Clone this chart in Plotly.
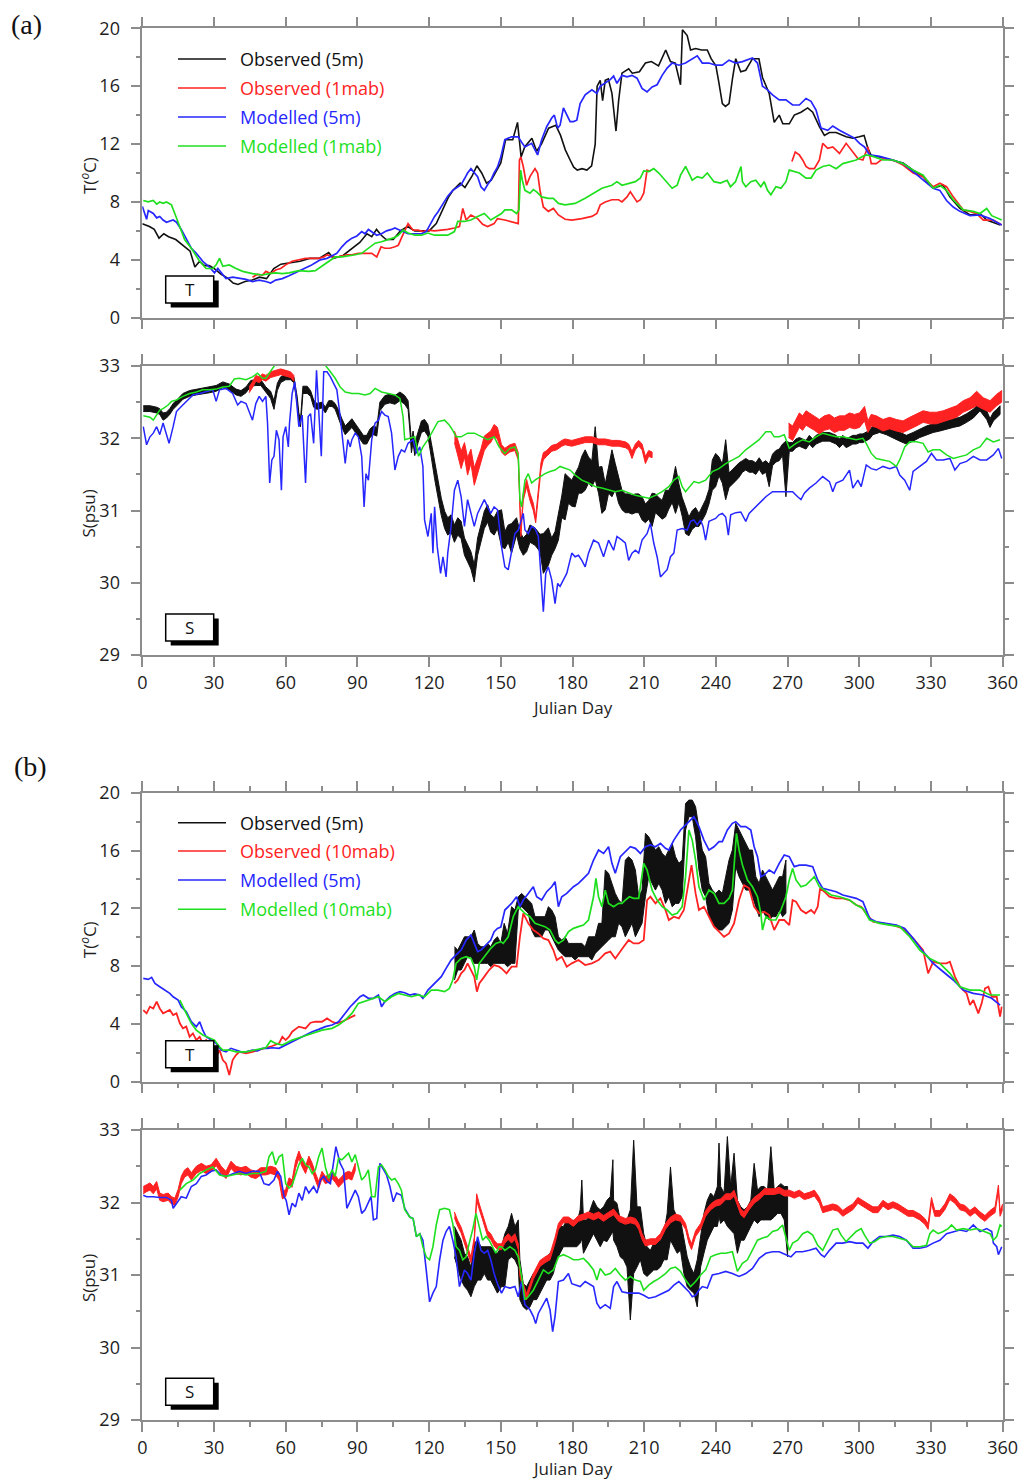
import plotly.graph_objects as go

W, H = 1029, 1482

# ---------------------------------------------------------------- axes / labels
DAY_TICKS = list(range(0, 361, 30))
DAY_MINOR = list(range(15, 360, 30))
T_TICKS = [0, 4, 8, 12, 16, 20]
S_TICKS = [29, 30, 31, 32, 33]

LEGEND_A = ["Observed (5m)", "Observed (1mab)", "Modelled (5m)", "Modelled (1mab)"]
LEGEND_B = ["Observed (5m)", "Observed (10mab)", "Modelled (5m)", "Modelled (10mab)"]
COLORS = ["#111111", "#ff2222", "#2626ff", "#1ee01e"]

# ================================================================ (a) temperature
# (julian day, degC)
AT_OBS_5M = [
    (0, 6.5), (3, 6.3), (5, 6.1), (7, 5.5), (9, 5.8), (11, 5.6), (14, 5.4), (17, 5.0), (20, 4.6), (22, 3.5),
    (24, 3.9), (26, 3.6), (28, 3.6), (30, 3.4), (33, 3.0), (36, 2.7), (38, 2.4), (40, 2.3), (43, 2.5), (46, 2.6),
    (49, 2.8), (52, 2.7), (55, 3.4), (58, 3.7), (62, 3.8), (66, 3.9), (70, 4.1), (74, 4.1), (78, 4.5), (80, 4.1),
    (84, 4.3), (88, 4.8), (91, 5.2), (94, 5.8), (96, 5.6), (98, 6.1), (100, 5.7), (102, 5.4), (105, 5.4), (108, 6.0),
    (111, 6.3), (114, 6.0), (117, 6.0), (120, 6.0), (123, 6.5), (126, 7.6), (128, 8.3), (130, 8.8), (133, 9.3), (135, 9.0),
    (138, 9.8), (140, 10.5), (142, 10.0), (144, 9.3), (146, 9.5), (148, 10.1), (150, 10.7), (152, 12.3), (155, 12.3), (157, 13.5),
    (158.5, 11.1), (160, 11.8), (163, 12.4), (165, 11.5), (167, 12.0), (170, 13.1), (173, 13.3), (175, 12.6), (177, 11.6), (179, 10.9),
    (180.5, 10.4), (182, 10.2), (184, 10.3), (186, 10.2), (188, 10.5), (189.5, 12.0), (190.3, 16.0), (191.6, 16.4), (192.6, 15.0), (193.7, 16.4),
    (195, 16.5), (196.5, 15.5), (198.2, 12.9), (199.3, 15.0), (200.7, 16.9), (203.5, 17.2), (205, 16.9), (208, 17.0), (210.5, 17.6), (213, 17.7),
    (216, 17.4), (219, 18.5), (221, 17.7), (223, 17.6), (225.2, 16.1), (226, 19.9), (228, 19.5), (229.4, 18.5), (231.5, 18.6), (234, 18.5),
    (236.4, 18.5), (238, 17.9), (240, 17.4), (241.3, 16.2), (242.7, 14.8), (244, 14.6), (245.5, 14.8), (247, 16.6), (248.3, 17.9), (250.4, 17.0),
    (252.5, 17.1), (255.3, 17.9), (258, 17.9), (259.5, 16.6), (261, 16.0), (262.3, 15.5), (264.4, 13.5), (266.5, 14.0), (268, 13.4), (270.7, 13.4),
    (272.8, 14.0), (275.6, 14.2), (278.4, 14.5), (280.5, 14.2), (283.3, 13.2), (285.4, 12.6), (287.5, 12.8), (290.3, 12.8), (294.5, 12.5), (297.3, 12.4),
    (300, 12.5), (302, 12.6), (303.6, 11.7), (305, 11.2), (308.5, 11.1), (314, 10.9), (318.3, 10.7), (322.5, 10.2), (326.7, 9.75), (330.9, 8.95),
    (335.1, 9.15), (337.9, 8.35), (342.1, 7.55), (346.3, 7.1), (350.5, 7.2), (353.3, 6.75), (359, 6.4),
]
AT_OBS_1MAB_A = [
    (46.1, 2.8), (48.2, 3.0), (50.3, 2.95), (51.7, 3.2), (53.7, 3.05), (55.8, 3.3), (57.9, 3.4), (60, 3.65), (62.7, 3.9), (65.5, 4.0),
    (68.3, 4.1), (71.1, 4.1), (73.8, 4.1), (75.9, 4.2), (77.3, 4.35), (79.4, 4.2), (82.1, 4.2), (85.6, 4.35), (87.7, 4.35), (90.4, 4.45),
    (93.2, 4.45), (96, 4.45), (98.1, 4.2), (99.9, 4.9), (101.5, 4.8), (103.6, 4.8), (105.7, 4.9), (107.1, 5.0), (108.4, 5.5), (110.1, 6.05),
    (111.2, 6.5), (113.3, 6.05), (115.4, 6.05), (117.5, 5.95), (119.5, 6.05), (122.3, 6.0), (125.1, 6.05), (127.8, 6.1), (130.6, 6.2), (132.7, 6.3),
    (134.1, 7.55), (135.5, 6.75), (137.5, 7.1), (140.3, 6.85), (142.4, 6.45), (144.5, 6.3), (147.2, 6.5), (148.6, 6.85), (151.7, 6.75), (154.5, 6.65),
    (157.3, 6.5), (157.8, 10.9), (158.4, 11.1), (159.4, 10.45), (160.8, 9.15), (162.2, 9.75), (164.3, 10.3), (165.4, 10.0), (166.4, 8.8), (167.8, 7.65),
    (169.9, 7.35), (172, 7.55), (174.1, 7.1), (176.9, 6.8), (179.7, 6.75), (183.9, 6.85), (188.1, 7.0), (190.2, 7.2), (191.6, 7.8), (193.7, 8.0),
    (196.5, 8.15), (199.3, 8.15), (200.7, 8.0), (202.8, 8.35), (204.2, 8.7), (205.6, 8.35), (207, 8.0), (208.4, 8.15), (209.8, 8.6), (211.2, 10.2),
    (212.6, 10.1),
]
AT_OBS_1MAB_B = [
    (271.8, 10.8), (273.2, 11.45), (274.9, 11.25), (276.3, 10.9), (277.7, 10.45), (279.1, 10.3), (281.2, 10.3), (283.3, 10.9), (284.7, 12.05), (286.8, 11.7),
    (288.9, 11.8), (291.7, 11.35), (294.5, 12.05), (296.6, 11.6), (298, 11.25), (299.4, 11.0), (301.5, 10.9), (303.6, 11.8), (305, 10.65), (307.1, 10.65),
    (309.9, 11.0), (314.1, 10.9), (318.3, 10.55), (322.5, 10.0), (326.7, 9.75), (330.9, 9.05), (333.7, 9.3), (336.5, 9.05), (339.3, 8.35), (343.5, 7.45),
    (346.3, 7.35), (349.1, 7.2), (351.9, 6.75), (356.1, 6.75), (359.6, 6.4),
]
AT_MOD_5M = [
    (0, 7.7), (1.8, 6.8), (2.5, 7.4), (4.6, 7.2), (6, 6.9), (7.3, 7.0), (8.7, 6.75), (10.1, 6.6), (12.9, 6.75), (14.3, 6.6),
    (16.3, 6.1), (18.4, 5.4), (20.5, 4.8), (22.6, 4.45), (25.3, 3.9), (28.1, 3.5), (30.2, 3.1), (31.6, 3.4), (33, 3.1), (35, 2.7),
    (37.8, 2.8), (40.6, 2.7), (43.4, 2.65), (46.1, 2.5), (48.9, 2.6), (51.7, 2.5), (53.7, 2.4), (55.8, 2.6), (58.6, 2.7), (61.4, 2.9),
    (64.1, 3.1), (66.9, 3.3), (69, 3.5), (70.4, 3.6), (72.4, 3.8), (74.5, 4.0), (77.3, 4.1), (79.4, 4.3), (81.4, 4.45), (83.5, 4.9),
    (85.6, 5.25), (87.7, 5.5), (89.8, 5.65), (91.8, 5.95), (93.2, 5.8), (94.6, 6.1), (96, 5.95), (98.1, 5.7), (100.1, 5.8), (102.2, 6.0),
    (104.3, 6.1), (105.7, 6.2), (107.1, 6.1), (109.1, 5.95), (111.2, 5.8), (114, 5.8), (116.8, 5.8), (118.8, 5.95), (120.9, 6.6), (122.3, 7.0),
    (123.7, 7.3), (125.8, 7.9), (127.8, 8.4), (129.9, 8.8), (132, 9.05), (133.4, 9.2), (134.8, 9.6), (136.1, 10.0), (137.5, 10.3), (138.9, 10.0),
    (140.3, 9.75), (141.7, 9.05), (143.1, 8.8), (144.5, 9.2), (145.8, 9.5), (147.2, 10.0), (148.6, 10.4), (150, 11.1), (151.7, 12.3), (154.5, 12.5),
    (157.3, 12.5), (159, 12.05), (160.1, 11.8), (162.9, 12.05), (165.4, 11.25), (167.1, 12.3), (169.2, 13.2), (171.3, 13.8), (172.4, 14.0), (173.8, 13.1),
    (174.8, 13.3), (176.2, 14.5), (177.6, 14.0), (179, 13.55), (180.4, 13.55), (181.8, 13.65), (183.2, 14.8), (185.3, 15.4), (188.1, 15.75), (190.2, 15.5),
    (191.6, 16.0), (193.7, 16.25), (195.8, 16.45), (197.2, 16.7), (198.6, 16.2), (200.7, 16.75), (202.8, 16.65), (204.9, 16.75), (207, 16.55), (209.1, 15.85),
    (211.2, 15.6), (213.3, 15.95), (215.4, 16.1), (217.5, 16.75), (219.6, 17.25), (221.7, 17.6), (224.5, 17.45), (227.3, 17.6), (229.4, 17.8), (232.2, 18.1),
    (234.3, 17.6), (237.1, 17.6), (239.9, 17.45), (242.7, 17.45), (245.5, 17.8), (248.3, 17.6), (251.1, 17.7), (255.3, 17.95), (257.4, 17.6), (259.5, 16.0),
    (261.6, 15.75), (263.7, 15.4), (266.5, 15.05), (269.3, 15.05), (272.1, 14.7), (274.9, 14.7), (277.7, 15.15), (279.8, 14.95), (281.9, 14.35), (284, 13.1),
    (286.8, 12.95), (288.9, 13.25), (291.7, 12.95), (295.2, 12.65), (298, 12.4), (300.1, 12.05), (302.2, 11.8), (304.3, 11.25), (308.5, 11.15), (314.1, 10.9),
    (318.3, 10.65), (322.5, 10.1), (326.7, 9.5), (330.9, 8.95), (333.7, 8.8), (336.5, 8.1), (339.3, 7.65), (342.1, 7.35), (346.3, 7.05), (350.5, 7.1),
    (354.7, 6.85), (359.6, 6.4),
]
AT_MOD_1MAB = [
    (0.4, 8.1), (2.5, 8.0), (4.6, 8.1), (6, 7.85), (7.3, 8.0), (8.7, 7.9), (10.1, 8.0), (12.2, 7.8), (13.6, 7.2), (15.7, 6.3),
    (17.7, 5.4), (20.5, 4.8), (24, 3.9), (26.7, 3.4), (29.5, 3.4), (30.9, 3.65), (32.3, 4.1), (33.7, 3.55), (36.4, 3.65), (39.2, 3.4),
    (42, 3.2), (46.1, 3.05), (50.3, 2.95), (53, 3.05), (55.8, 3.1), (58.6, 3.05), (61.4, 3.1), (65.5, 3.25), (69.7, 3.2), (72.4, 3.25),
    (75.2, 3.55), (78, 3.85), (80.7, 4.2), (83.5, 4.2), (86.3, 4.25), (89.1, 4.35), (91.8, 4.45), (94.6, 4.8), (97.4, 5.15), (100.1, 5.25),
    (102.9, 5.4), (105.7, 5.55), (107.1, 5.7), (109.1, 6.05), (111.2, 5.85), (114, 5.7), (116.8, 5.7), (119.5, 5.85), (122.3, 5.7), (125.1, 5.7),
    (127.8, 5.7), (130.6, 5.95), (132, 6.65), (134.8, 6.65), (137.5, 6.75), (140.3, 7.0), (143.1, 7.2), (145.8, 6.75), (148.6, 7.0), (150.3, 7.2),
    (151.7, 7.45), (154.5, 7.45), (156.6, 7.2), (157.6, 7.45), (158.3, 10.2), (159, 9.5), (160.1, 8.8), (162.2, 8.6), (163.6, 8.85), (165, 8.7),
    (167.1, 8.35), (169.9, 8.25), (172, 8.25), (174.1, 7.9), (176.9, 7.8), (181.1, 7.9), (185.3, 8.25), (189.5, 8.7), (192.3, 8.95), (196.5, 9.15),
    (198.6, 9.4), (200.7, 9.15), (203.5, 9.3), (206.3, 9.4), (208.4, 9.65), (209.8, 10.15), (211.9, 10.1), (214, 10.3), (216.1, 10.0), (218.9, 9.5),
    (221.7, 8.95), (223.8, 9.15), (225.2, 9.85), (227.3, 10.45), (228.7, 10.0), (230.1, 9.5), (232.2, 9.75), (234.3, 9.65), (236.4, 10.0), (239.2, 9.4),
    (241.9, 9.3), (244.7, 9.5), (246.1, 9.05), (248.2, 9.4), (250.5, 10.45), (251.1, 9.4), (252.5, 9.05), (254.6, 9.4), (256.7, 9.5), (258.8, 9.05),
    (260.2, 9.4), (261.6, 8.8), (263, 8.5), (265.1, 9.05), (267.2, 8.95), (269.3, 9.4), (270.7, 10.2), (272.8, 10.1), (274.9, 10.0), (277.7, 9.65),
    (279.8, 9.65), (281.9, 10.2), (284.7, 10.45), (287.5, 10.55), (290.3, 10.3), (293.1, 10.65), (295.9, 10.8), (298.7, 10.9), (301.5, 11.15), (302.9, 11.25),
    (305.7, 11.15), (309.9, 10.9), (314.1, 10.9), (318.3, 10.65), (322.5, 10.2), (326.7, 9.85), (330.9, 8.95), (333.7, 9.15), (336.5, 8.8), (339.3, 8.15),
    (343.5, 7.45), (347.7, 7.35), (350.5, 7.2), (353.3, 7.55), (355.4, 7.05), (359.6, 6.75),
]

# ================================================================ (a) salinity
# noisy observations: (julian day, low psu, high psu)
AS_OBS_5M = [
    (0.4, 32.37, 32.45), (3.2, 32.37, 32.45), (6.0, 32.35, 32.43), (7.3, 32.33, 32.41), (8.7, 32.25, 32.35), (10.1, 32.28, 32.36),
    (11.5, 32.33, 32.41), (12.9, 32.40, 32.48), (15, 32.47, 32.55), (17, 32.54, 32.62), (19.8, 32.58, 32.66), (22.6, 32.60, 32.68),
    (25.3, 32.62, 32.70), (28.1, 32.63, 32.71), (30.9, 32.65, 32.73), (33.7, 32.70, 32.78), (36.4, 32.67, 32.75), (39.2, 32.60, 32.68),
    (41.3, 32.58, 32.66), (43.4, 32.63, 32.71), (45.4, 32.72, 32.80), (47.5, 32.73, 32.81), (49.6, 32.73, 32.81), (51.7, 32.63, 32.71),
    (53.7, 32.55, 32.65), (55.1, 32.40, 32.52), (56.5, 32.66, 32.76), (57.9, 32.77, 32.85), (60, 32.81, 32.89), (62, 32.81, 32.89),
    (63.4, 32.77, 32.85), (64.8, 32.48, 32.58), (65.5, 32.25, 32.35), (66.2, 32.16, 32.26), (67.2, 32.62, 32.72), (69, 32.62, 32.72),
    (70.4, 32.58, 32.66), (71.7, 32.43, 32.53), (73.1, 32.40, 32.48), (75.2, 32.42, 32.50), (76.6, 32.35, 32.43), (78, 32.44, 32.52),
    (79.4, 32.44, 32.52), (80.7, 32.40, 32.48), (82.1, 32.29, 32.39), (83.5, 32.15, 32.27), (84.9, 32.05, 32.17), (86.3, 32.10, 32.22),
    (87.7, 32.15, 32.27), (89.8, 32.05, 32.17), (91.1, 31.99, 32.11), (92.5, 31.92, 32.04), (93.9, 31.92, 32.04), (95.3, 32.01, 32.13),
    (96.7, 32.05, 32.17), (98.1, 32.03, 32.15), (99.4, 32.38, 32.50), (101.5, 32.47, 32.59), (103.6, 32.49, 32.61), (105.7, 32.47, 32.59),
    (107.8, 32.52, 32.64), (109.8, 32.47, 32.59), (111.2, 32.40, 32.52), (111.9, 32.13, 32.29), (112.6, 31.80, 31.96), (113.3, 31.94, 32.10),
    (114, 31.76, 31.92), (114.7, 31.85, 32.01), (115.4, 31.94, 32.10), (116.8, 32.08, 32.24), (118.1, 32.10, 32.26), (119.5, 32.03, 32.19),
    (120.9, 31.74, 31.94), (122.3, 31.44, 31.68), (123.7, 31.16, 31.40), (125.1, 30.93, 31.17), (126.5, 30.75, 30.99), (127.8, 30.66, 30.90),
    (129.2, 30.70, 30.94), (130.6, 30.56, 30.80), (132, 30.66, 30.90), (133.4, 30.61, 30.85), (134.8, 30.38, 30.62), (136.1, 30.29, 30.53),
    (137.5, 30.19, 30.43), (138.9, 30.01, 30.25), (140.3, 30.38, 30.62), (141.7, 30.56, 30.80), (143.1, 30.75, 30.99), (144.5, 30.84, 31.08),
    (145.8, 30.70, 30.94), (147.2, 30.66, 30.90), (148.6, 30.75, 30.99), (150.3, 30.50, 31.01), (151.7, 30.47, 30.71), (153.1, 30.56, 30.80),
    (154.5, 30.41, 30.82), (156.6, 30.66, 30.90), (158, 30.47, 30.71), (159.4, 30.38, 30.62), (160.8, 30.43, 30.67), (162.2, 30.56, 30.80),
    (164.3, 30.52, 30.76), (166.4, 30.43, 30.67), (167.8, 30.13, 30.68), (169.9, 30.24, 30.76), (171.3, 30.38, 30.62), (172.7, 30.47, 30.71),
    (174.1, 30.59, 30.96), (175.5, 30.90, 31.20), (176.9, 30.87, 31.51), (178.3, 31.10, 31.46), (179.7, 31.06, 31.42), (181.1, 31.05, 31.51),
    (182.5, 31.24, 31.60), (183.9, 31.24, 31.75), (185.3, 31.28, 31.84), (186.7, 31.38, 31.74), (188.1, 31.33, 31.69), (189.5, 31.43, 32.16),
    (190.9, 31.24, 31.60), (192.3, 30.96, 31.61), (193.7, 31.01, 31.37), (195.1, 31.24, 31.60), (196.5, 31.19, 31.84), (197.9, 31.29, 31.65),
    (199.3, 31.10, 31.46), (200.7, 31.01, 31.28), (202.1, 30.97, 31.23), (203.5, 30.97, 31.23), (204.9, 30.95, 31.21), (206.3, 30.97, 31.23),
    (207.7, 30.97, 31.23), (209.1, 30.87, 31.19), (210.5, 30.83, 31.09), (211.9, 30.88, 31.14), (213.3, 30.78, 31.24), (214.7, 30.97, 31.23),
    (216.1, 30.92, 31.18), (217.5, 30.88, 31.14), (218.9, 30.91, 31.28), (220.3, 31.02, 31.28), (221.7, 31.11, 31.37), (223.1, 30.96, 31.61),
    (224.5, 31.11, 31.37), (225.9, 30.92, 31.18), (227.3, 30.68, 31.05), (228.7, 30.65, 30.91), (230.1, 30.74, 31.00), (231.5, 30.78, 31.04),
    (232.9, 30.78, 30.96), (234.3, 30.86, 31.06), (235.7, 30.95, 31.15), (237.1, 31.09, 31.29), (238.5, 31.28, 31.70), (239.9, 31.33, 31.79),
    (241.3, 31.48, 31.74), (242.7, 31.38, 31.64), (244.1, 31.15, 31.98), (245.5, 31.32, 31.52), (246.9, 31.37, 31.57), (248.3, 31.41, 31.61),
    (249.7, 31.46, 31.66), (251.1, 31.53, 31.69), (252.5, 31.56, 31.72), (253.9, 31.53, 31.69), (255.3, 31.53, 31.69), (256.7, 31.50, 31.66),
    (258.1, 31.57, 31.73), (259.5, 31.50, 31.66), (260.9, 31.53, 31.69), (262.3, 31.33, 31.64), (263.7, 31.62, 31.78), (265.1, 31.67, 31.83),
    (266.5, 31.69, 31.85), (267.9, 31.76, 31.92), (269.3, 31.19, 31.96), (270.7, 31.82, 31.94), (272.1, 31.82, 31.94), (273.5, 31.87, 31.99),
    (274.9, 31.89, 32.01), (276.3, 31.87, 31.99), (277.7, 31.85, 31.97), (279.1, 31.92, 32.04), (280.5, 31.87, 31.99), (281.9, 31.92, 32.04),
    (283.3, 31.94, 32.06), (284.7, 31.96, 32.08), (286.1, 31.96, 32.08), (287.5, 31.96, 32.08), (288.9, 31.94, 32.06), (290.3, 31.92, 32.04),
    (291.7, 31.87, 31.99), (293.1, 31.92, 32.04), (294.5, 31.87, 31.99), (295.9, 31.89, 32.01), (297.3, 31.92, 32.04), (298.7, 31.92, 32.04),
    (300.1, 31.94, 32.06), (301.5, 31.94, 32.06), (302.9, 31.96, 32.08), (304.3, 31.99, 32.11), (305.7, 32.05, 32.17), (308.5, 32.08, 32.20),
    (311.3, 32.05, 32.17), (314.1, 32.01, 32.13), (316.9, 31.96, 32.08), (319.7, 31.92, 32.04), (322.5, 31.96, 32.08), (325.3, 32.01, 32.13),
    (328.1, 32.05, 32.17), (330.9, 32.08, 32.20), (333.7, 32.10, 32.22), (336.5, 32.12, 32.24), (339.3, 32.15, 32.27), (342.1, 32.17, 32.29),
    (344.9, 32.22, 32.34), (347.7, 32.28, 32.40), (350.5, 32.38, 32.50), (353.3, 32.26, 32.38), (354.7, 32.15, 32.27), (356.1, 32.24, 32.36),
    (357.5, 32.28, 32.40), (358.9, 32.33, 32.45),
]
AS_OBS_1MAB_A = [
    (44.7, 32.63, 32.71), (46.1, 32.70, 32.78), (47.5, 32.79, 32.87), (48.9, 32.77, 32.85), (50.3, 32.81, 32.89), (51.7, 32.79, 32.87),
    (53.7, 32.84, 32.92), (55.8, 32.86, 32.94), (57.9, 32.88, 32.96), (60, 32.86, 32.94), (62, 32.84, 32.92), (63.4, 32.79, 32.87),
]
AS_OBS_1MAB_B = [
    (130.6, 31.94, 32.10), (132, 31.78, 31.98), (133.4, 31.58, 31.82), (134.8, 31.74, 31.94), (136.1, 31.49, 31.73), (137.5, 31.65, 31.85),
    (138.9, 31.35, 31.59), (140.3, 31.51, 31.71), (141.7, 31.65, 31.85), (143.1, 31.83, 32.03), (144.5, 31.90, 32.06), (145.8, 31.94, 32.10),
    (147.2, 32.03, 32.19), (148.6, 31.99, 32.15), (150.3, 31.81, 31.91), (151.7, 31.76, 31.86), (153.8, 31.81, 31.91), (155.9, 31.83, 31.93),
    (157.3, 31.70, 31.80), (158, 31.00, 31.10), (158.4, 30.64, 30.72), (159.4, 31.14, 31.24), (160.8, 31.33, 31.43), (162.2, 31.14, 31.24),
    (163.6, 31.00, 31.10), (164.6, 30.83, 30.91), (165.7, 31.14, 31.24), (166.8, 31.56, 31.66), (167.8, 31.70, 31.80), (169.2, 31.75, 31.83),
    (171.3, 31.82, 31.90), (173.4, 31.84, 31.92), (175.5, 31.89, 31.97), (176.9, 31.91, 31.99), (179.7, 31.89, 31.97), (182.5, 31.91, 31.99),
    (185.3, 31.94, 32.02), (188.1, 31.94, 32.02), (190.9, 31.91, 31.99), (193.7, 31.91, 31.99), (196.5, 31.89, 31.97), (199.3, 31.89, 31.97),
    (202.1, 31.87, 31.95), (203.5, 31.84, 31.92), (204.9, 31.72, 31.82), (206.3, 31.84, 31.92), (207.7, 31.89, 31.97), (209.1, 31.84, 31.92),
    (210.5, 31.65, 31.75), (211.9, 31.75, 31.83), (213.3, 31.73, 31.81),
]
AS_OBS_1MAB_C = [
    (270.4, 32.01, 32.21), (272.1, 31.97, 32.17), (273.5, 32.06, 32.26), (274.9, 32.15, 32.35), (276.3, 32.11, 32.31), (277.7, 32.18, 32.38),
    (279.1, 32.15, 32.35), (281.2, 32.11, 32.31), (283.3, 32.06, 32.26), (285.4, 32.11, 32.31), (287.5, 32.13, 32.33), (289.6, 32.08, 32.28),
    (291.7, 32.11, 32.31), (293.8, 32.11, 32.31), (295.9, 32.15, 32.35), (298, 32.13, 32.33), (300.1, 32.15, 32.35), (302.2, 32.24, 32.44),
    (303.6, 32.08, 32.24), (305, 32.17, 32.33), (307.1, 32.15, 32.31), (309.9, 32.10, 32.26), (312.7, 32.13, 32.29), (315.5, 32.10, 32.26),
    (318.3, 32.08, 32.24), (321.1, 32.13, 32.29), (323.9, 32.17, 32.33), (326.7, 32.22, 32.38), (329.5, 32.20, 32.36), (332.3, 32.20, 32.36),
    (335.1, 32.22, 32.38), (337.9, 32.26, 32.42), (340.7, 32.29, 32.45), (343.5, 32.36, 32.52), (346.3, 32.40, 32.56), (349.1, 32.45, 32.65),
    (351.9, 32.40, 32.56), (354.7, 32.36, 32.52), (357.5, 32.45, 32.61), (359.6, 32.50, 32.66),
]
AS_MOD_5M = [
    (0.4, 32.16), (1.8, 31.91), (3.2, 32.02), (4.6, 32.07), (6, 32.16), (7.3, 32.05), (8.7, 32.21), (10.1, 32.07), (11.2, 31.93), (12.9, 32.16),
    (14.3, 32.37), (16.3, 32.44), (18.4, 32.51), (21.2, 32.6), (24, 32.62), (26.7, 32.64), (29.5, 32.67), (30.9, 32.51), (32.3, 32.67), (35, 32.69),
    (37.8, 32.62), (39.9, 32.46), (41.3, 32.51), (43.4, 32.48), (44.7, 32.37), (46.1, 32.25), (47.5, 32.48), (48.9, 32.58), (50.3, 32.51), (51.7, 32.58),
    (52.4, 32.21), (53.3, 31.38), (54.2, 31.7), (55.1, 31.75), (56.1, 32.11), (57.2, 31.98), (58.2, 31.28), (58.9, 32.02), (60, 32.16), (61.1, 31.88),
    (61.6, 32.21), (62.7, 32.62), (63.8, 32.78), (64.8, 32.44), (65.5, 32.16), (66.9, 32.32), (68.3, 31.38), (69.4, 32.3), (70.4, 32.34), (71.7, 31.93),
    (72.9, 32.94), (73.8, 32.39), (74.9, 31.75), (75.9, 32.92), (77.3, 32.92), (78.7, 32.85), (80.1, 32.76), (81.4, 32.67), (82.8, 32.3), (84.2, 31.84),
    (84.9, 31.65), (86, 31.98), (87, 31.88), (87.7, 31.98), (89.1, 32.07), (90.4, 32.02), (91.8, 31.75), (92.8, 31.05), (93.6, 31.51), (94.6, 31.42),
    (96, 31.98), (97.4, 32.21), (98.8, 32.25), (100.1, 32.37), (101.5, 32.32), (102.9, 32.3), (104.3, 32.07), (105.7, 31.56), (107.1, 31.75), (108.4, 31.84),
    (109.8, 31.81), (111.2, 31.93), (113.3, 31.98), (114.7, 31.79), (116.1, 31.88), (117.4, 31.61), (118.1, 30.87), (119.5, 30.64), (120.9, 30.96), (121.6, 30.41),
    (122.3, 31.05), (123.4, 30.5), (124.8, 30.13), (125.8, 30.36), (127.1, 30.08), (127.8, 30.41), (129.2, 30.78), (130.6, 31.28), (132, 31.42), (133.4, 31.19),
    (134.8, 30.78), (136.1, 31.15), (137.5, 30.96), (138.9, 30.78), (140.3, 30.96), (141.7, 31.05), (143.1, 31.15), (144.5, 31.05), (145.8, 30.96), (147.2, 31.05),
    (148.6, 31.01), (150.3, 30.5), (151.7, 30.22), (153.1, 30.18), (154.5, 30.41), (155.9, 30.68), (157.3, 30.73), (158.7, 30.91), (159.4, 30.96), (160.1, 30.73),
    (161.5, 30.68), (162.9, 30.78), (164.3, 30.75), (165.7, 30.64), (166.8, 30.13), (167.8, 29.6), (168.8, 30.13), (169.9, 30.22), (171.3, 30.04), (172.7, 29.71),
    (173.8, 29.99), (174.8, 29.95), (176.2, 30.04), (177.6, 30.13), (179.7, 30.41), (181.1, 30.36), (182.5, 30.38), (183.9, 30.31), (185.3, 30.22), (186.7, 30.41),
    (188.8, 30.59), (190.9, 30.55), (193, 30.36), (195.1, 30.59), (197.2, 30.45), (198.6, 30.64), (200.7, 30.59), (202.1, 30.55), (203.5, 30.31), (204.9, 30.41),
    (206.3, 30.45), (207.7, 30.41), (209.1, 30.59), (211.2, 30.68), (212.6, 30.82), (214, 30.55), (215.4, 30.36), (216.8, 30.08), (218.2, 30.13), (219.6, 30.18),
    (221, 30.36), (222.4, 30.41), (223.8, 30.73), (225.9, 30.75), (228, 30.73), (229.4, 30.85), (230.8, 30.87), (232.2, 30.8), (233.6, 30.87), (234.6, 30.78),
    (235.7, 30.59), (237.1, 30.85), (238.5, 30.87), (239.9, 30.89), (241.3, 30.94), (242.7, 30.96), (244.1, 30.91), (245.2, 30.66), (246.2, 30.94), (248.3, 30.97),
    (250.4, 30.98), (252.5, 30.85), (253.9, 30.96), (256, 31.03), (258.1, 31.1), (260.9, 31.19), (263.7, 31.26), (266.5, 31.26), (269.3, 31.26), (272.1, 31.26),
    (274.2, 31.19), (275.6, 31.15), (277, 31.24), (279.1, 31.31), (281.9, 31.38), (284.7, 31.47), (287.5, 31.4), (288.9, 31.26), (290.3, 31.38), (293.1, 31.42),
    (295.9, 31.56), (297.3, 31.31), (299.4, 31.42), (300.8, 31.33), (302.9, 31.63), (305, 31.58), (307.1, 31.56), (309.9, 31.61), (312.7, 31.58), (315.5, 31.61),
    (316.9, 31.49), (319, 31.42), (321.1, 31.28), (322.5, 31.54), (325.3, 31.61), (328.1, 31.68), (330.2, 31.79), (332.3, 31.7), (335.1, 31.7), (337.9, 31.72),
    (340, 31.56), (342.1, 31.65), (344.9, 31.68), (347.7, 31.75), (350.5, 31.7), (353.3, 31.7), (356.1, 31.77), (358.2, 31.86), (359.6, 31.72),
]
AS_MOD_1MAB = [
    (0.4, 32.31), (3.2, 32.29), (4.6, 32.25), (6, 32.32), (7.3, 32.39), (8.7, 32.41), (10.8, 32.46), (12.2, 32.51), (14.3, 32.53), (17, 32.58),
    (19.8, 32.62), (22.6, 32.64), (25.3, 32.67), (28.1, 32.67), (30.9, 32.68), (33.7, 32.71), (36.4, 32.72), (38.5, 32.82), (40.6, 32.83), (43.4, 32.81),
    (46.1, 32.85), (48.2, 32.9), (50.3, 32.83), (51.7, 32.83), (53.7, 32.92), (55.8, 33.03), (58.6, 33.06), (62.7, 33.04), (66.9, 33.04), (71.1, 33.03),
    (73.8, 33.04), (76.6, 33.01), (78.7, 32.92), (80.7, 32.83), (82.8, 32.71), (84.9, 32.64), (87.7, 32.62), (90.4, 32.62), (93.2, 32.6), (95.3, 32.62),
    (97.4, 32.69), (100.1, 32.64), (102.9, 32.62), (105.7, 32.6), (107.8, 32.55), (109.1, 32.3), (109.8, 31.98), (111.9, 32.0), (114, 32.02), (115.6, 31.75),
    (117.4, 31.88), (119.5, 31.98), (121.6, 32.11), (123.7, 32.23), (126.5, 32.25), (128.5, 32.18), (129.9, 32.11), (131.3, 32.02), (133.4, 32.02), (136.1, 32.07),
    (138.9, 32.07), (141.7, 32.02), (144.5, 31.98), (147.2, 32.02), (149.3, 31.88), (150.3, 31.84), (151.7, 31.79), (153.8, 31.86), (155.9, 31.88), (157.3, 31.77),
    (158, 31.15), (158.7, 31.05), (160.1, 31.42), (161.5, 31.51), (162.9, 31.38), (164.3, 31.42), (166.4, 31.47), (168.5, 31.51), (170.6, 31.54), (172.7, 31.56),
    (174.8, 31.61), (176.9, 31.58), (179, 31.56), (181.1, 31.49), (183.9, 31.42), (186.7, 31.38), (189.5, 31.33), (192.3, 31.31), (195.1, 31.28), (197.9, 31.26),
    (200.7, 31.28), (203.5, 31.24), (206.3, 31.21), (209.1, 31.19), (211.9, 31.17), (214.7, 31.21), (217.5, 31.26), (220.3, 31.33), (222.4, 31.42), (224.5, 31.47),
    (225.9, 31.33), (227.3, 31.26), (228.7, 31.31), (230.8, 31.4), (232.9, 31.38), (235.7, 31.42), (238.5, 31.54), (241.3, 31.58), (244.1, 31.65), (246.9, 31.7),
    (249.7, 31.75), (252.5, 31.84), (255.3, 31.91), (258.1, 31.98), (260.9, 32.09), (263, 32.09), (264.4, 32.02), (266.5, 32.02), (268.6, 32.05), (270.7, 31.86),
    (273.5, 31.93), (276.3, 31.98), (279.1, 31.95), (281.9, 32.02), (284.7, 32.07), (287.5, 32.05), (290.3, 32.02), (293.1, 32.02), (295.9, 32.0), (298.7, 31.98),
    (301.5, 32.0), (302.9, 31.93), (305, 31.79), (307.1, 31.72), (309.9, 31.7), (312.7, 31.68), (315.5, 31.61), (316.9, 31.7), (319, 31.88), (321.1, 31.95),
    (323.9, 31.95), (326.7, 31.93), (328.8, 31.81), (330.9, 31.84), (333.7, 31.84), (336.5, 31.77), (339.3, 31.72), (342.1, 31.75), (344.9, 31.77), (347.7, 31.84),
    (350.5, 31.88), (353.3, 32.0), (356.1, 31.95), (358.9, 31.98),
]

# ================================================================ (b) temperature
BT_OBS_5M = [
    (130.6, 7.04, 9.34), (132, 7.73, 9.11), (133.4, 7.73, 9.57), (134.8, 8.19, 10.03), (136.1, 8.65, 10.03), (137.5, 8.65, 10.03),
    (138.9, 8.19, 10.50), (140.3, 8.19, 9.57), (141.7, 8.19, 9.34), (143.1, 8.19, 9.34), (144.5, 8.19, 9.57), (145.8, 7.96, 9.34),
    (147.2, 8.19, 9.80), (148.6, 8.19, 10.03), (150, 8.19, 9.57), (151.4, 8.19, 10.96), (152.8, 7.96, 10.26), (154.5, 8.19, 12.11),
    (155.9, 8.19, 11.88), (157.3, 11.88, 12.80), (158.7, 12.11, 13.03), (160.1, 11.88, 12.80), (161.5, 11.65, 12.57), (162.9, 10.50, 12.34),
    (164.3, 10.03, 11.42), (165.7, 10.03, 11.42), (167.1, 10.03, 11.42), (168.5, 10.50, 11.42), (169.9, 10.50, 12.11), (171.3, 10.03, 11.88),
    (172.7, 9.57, 11.42), (174.1, 9.11, 10.03), (175.5, 8.88, 9.80), (176.9, 8.65, 10.03), (178.3, 8.65, 9.57), (179.7, 8.65, 9.57),
    (181.1, 8.42, 9.57), (182.5, 8.65, 9.57), (183.9, 8.65, 9.57), (185.3, 8.65, 9.34), (186.7, 8.65, 10.03), (188.1, 8.42, 10.03),
    (189.5, 8.88, 10.03), (190.9, 9.11, 10.96), (192.3, 9.34, 10.96), (193.7, 9.57, 14.65), (195.1, 9.80, 14.42), (196.5, 10.03, 13.72),
    (197.9, 10.03, 13.03), (199.3, 10.96, 12.57), (200.7, 10.73, 12.34), (202.1, 10.03, 15.34), (203.5, 10.50, 15.57), (204.9, 10.96, 15.34),
    (206.3, 10.03, 14.65), (207.7, 10.50, 12.80), (209.1, 10.96, 13.26), (210.5, 12.80, 17.19), (211.9, 14.19, 16.95), (213.3, 13.72, 16.49),
    (214.7, 13.26, 16.03), (216.1, 13.72, 16.26), (217.5, 13.26, 15.80), (218.9, 12.34, 15.57), (220.3, 12.80, 16.03), (221.7, 12.11, 16.49),
    (223.1, 12.34, 15.57), (224.5, 12.34, 15.11), (225.9, 12.80, 15.34), (227.3, 17.42, 19.26), (228.7, 18.34, 19.49), (230.1, 18.34, 19.49),
    (231.5, 16.95, 19.03), (232.9, 14.65, 17.65), (234.3, 13.26, 16.03), (235.7, 12.80, 15.57), (237.1, 11.42, 13.72), (238.5, 10.96, 13.26),
    (239.9, 10.73, 13.03), (241.3, 10.50, 13.26), (242.7, 10.50, 13.03), (244.1, 10.73, 14.19), (245.5, 10.96, 15.34), (246.9, 11.88, 16.03),
    (248.3, 14.88, 17.88), (249.7, 14.19, 17.42), (251.1, 13.72, 16.95), (252.5, 13.26, 16.49), (253.9, 13.26, 16.03), (255.3, 12.80, 16.03),
    (256.7, 12.11, 14.19), (258.1, 11.42, 13.72), (259.5, 11.88, 14.65), (260.9, 11.42, 14.19), (262.3, 11.19, 13.72), (263.7, 11.42, 13.26),
    (265.1, 11.42, 13.72), (266.5, 11.88, 14.19), (267.9, 11.42, 14.19), (269.3, 11.65, 15.34),
]
BT_OBS_10MAB_A = [
    (0.4, 4.96), (1.8, 4.73), (3.2, 5.19), (4.6, 5.07), (6, 5.54), (7.3, 5.07), (8.7, 4.73), (10.1, 4.84), (11.5, 4.96), (12.9, 4.61),
    (14.3, 4.73), (15.7, 4.04), (17, 3.69), (18.4, 3.81), (19.8, 3.11), (21.2, 3.34), (22.6, 2.88), (24, 3.11), (25.3, 2.65), (26.7, 2.88),
    (28.1, 2.42), (29.5, 2.19), (30.9, 1.73), (32.3, 2.19), (33.7, 1.5), (35, 1.27), (36.4, 0.46), (37.8, 1.5), (39.2, 1.84), (40.6, 2.07),
    (43.4, 1.96), (46.1, 2.07), (48.9, 2.19), (51.7, 2.31), (54.4, 2.47), (57.2, 2.65), (58.6, 3.11), (60, 2.88), (61.4, 3.11), (62.7, 3.46),
    (65.5, 3.81), (68.3, 3.69), (70.4, 4.08), (72.4, 4.15), (75.2, 4.15), (77.3, 4.38), (79.4, 4.15), (81.4, 4.04), (83.5, 4.15), (86.3, 4.38),
    (89.1, 4.61),
]
BT_OBS_10MAB_B = [
    (130.6, 6.8), (132, 7.04), (133.4, 7.5), (134.8, 7.73), (136.1, 8.19), (137.5, 7.73), (138.9, 7.27), (140, 6.23), (141, 6.8), (143.1, 7.27),
    (145.1, 7.73), (147.2, 8.07), (149.3, 7.96), (150.3, 7.84), (152.4, 7.5), (154.5, 7.96), (156.6, 7.96), (158, 10.03), (159.4, 11.65), (161.5, 10.96),
    (163.6, 10.5), (165.7, 10.26), (167.8, 9.92), (169.9, 9.8), (172, 9.11), (173.4, 8.42), (175.5, 8.65), (177.6, 7.96), (179.7, 8.19), (182.5, 8.42),
    (185.3, 8.07), (188.1, 8.19), (190.9, 8.42), (193.7, 8.88), (195.8, 9.0), (197.9, 8.53), (199.3, 8.88), (201.4, 9.34), (203.5, 9.8), (205.6, 9.57),
    (207.7, 9.57), (209.8, 9.8), (211.2, 12.57), (212.6, 12.8), (214.7, 12.34), (216.8, 12.69), (218.9, 11.88), (220.3, 11.19), (222.4, 11.42), (224.5, 11.3),
    (226.6, 11.88), (228, 13.26), (229.8, 14.99), (231.5, 13.03), (232.9, 11.88), (235, 12.11), (237.1, 11.42), (239.2, 10.73), (241.3, 10.38), (243.4, 10.03),
    (245.5, 10.26), (247.6, 10.96), (249.7, 12.57), (251.8, 13.61), (253.9, 13.38), (256, 12.11), (258.1, 11.65), (260.2, 11.76), (262.3, 11.53), (264.4, 10.5),
    (266.5, 11.19), (268.6, 11.19), (270.7, 10.84), (272.1, 12.57), (273.5, 12.46), (275.6, 11.88), (277.7, 11.65), (279.8, 11.88), (281.2, 11.65), (282.6, 12.11),
    (283.6, 13.38), (285.4, 13.15), (287.5, 12.8), (290.3, 12.69), (293.1, 12.69), (295.9, 12.57), (298.7, 12.23), (300.8, 12.11), (302.9, 11.65), (305.7, 11.07),
    (309.9, 10.96), (314.1, 10.84), (318.3, 10.61), (322.5, 9.92), (326.7, 9.11), (328.8, 7.5), (330.9, 8.3), (333.7, 8.19), (336.5, 8.19), (337.9, 8.3),
    (340, 7.27), (342.1, 6.57), (344.9, 6.11), (346.3, 5.3), (347.7, 5.65), (349.8, 4.73), (351.2, 5.42), (352.6, 6.46), (354, 6.57), (355.4, 5.88),
    (357.5, 5.88), (358.9, 4.5), (359.6, 5.19),
]
BT_MOD_5M = [
    (0.4, 7.15), (2.5, 7.08), (3.9, 7.22), (5.3, 6.8), (7.3, 6.57), (9.4, 6.34), (11.5, 6.11), (12.9, 5.88), (15, 5.65), (16.3, 5.19),
    (18.4, 4.84), (20.5, 4.15), (22.6, 3.81), (24, 4.15), (25.3, 3.57), (26.7, 3.11), (28.8, 2.88), (30.9, 2.65), (33, 2.19), (35, 2.07),
    (37.1, 2.31), (39.2, 2.19), (41.3, 2.07), (43.4, 2.07), (46.1, 2.19), (48.2, 2.14), (50.3, 2.31), (52.4, 2.31), (54.4, 2.35), (57.2, 2.31),
    (60, 2.54), (62.7, 2.77), (65.5, 3.0), (68.3, 3.23), (71.1, 3.46), (73.8, 3.62), (76.6, 3.81), (79.4, 3.92), (82.1, 4.15), (84.9, 4.73),
    (87, 5.19), (89.1, 5.54), (91.1, 5.88), (92.5, 6.0), (94.6, 5.77), (96.7, 5.77), (98.8, 6.0), (100.1, 5.19), (101.5, 5.54), (103.6, 5.88),
    (105.7, 6.11), (107.8, 6.23), (109.8, 6.16), (111.9, 6.0), (114, 6.07), (116.1, 6.0), (117.4, 5.77), (119.5, 6.34), (120.9, 6.57), (123, 6.92),
    (125.1, 7.27), (127.1, 7.84), (129.2, 8.42), (131.3, 8.77), (133.4, 9.11), (135.5, 9.8), (137.5, 10.15), (138.9, 9.57), (140.3, 9.0), (141.7, 9.11),
    (143.1, 9.34), (144.5, 9.57), (145.8, 9.8), (147.2, 10.38), (148.6, 10.61), (150, 10.7), (151.7, 11.88), (154.5, 12.34), (156.6, 12.8), (158, 12.11),
    (159.4, 12.57), (161.5, 13.03), (163.6, 13.49), (165, 12.8), (167.1, 12.57), (169.2, 13.15), (171.3, 13.49), (172.7, 13.84), (174.1, 12.11), (175.5, 12.8),
    (177.6, 13.03), (180.4, 13.49), (182.5, 13.72), (184.6, 14.07), (186.7, 14.42), (188.8, 15.34), (190.9, 16.03), (193, 15.8), (195.1, 16.26), (196.5, 15.11),
    (197.9, 14.42), (200, 15.57), (202.1, 15.92), (204.2, 16.26), (206.3, 16.15), (208.4, 15.8), (210.5, 16.26), (212.6, 16.38), (214.7, 16.26), (216.8, 16.49),
    (218.9, 16.15), (220.3, 16.03), (222.4, 16.72), (225.2, 17.42), (228, 17.88), (230.8, 18.34), (232.9, 17.65), (235, 16.72), (237.1, 16.03), (239.2, 16.26),
    (241.3, 16.61), (242.7, 16.61), (244.8, 17.42), (246.9, 17.88), (248.3, 17.99), (250.4, 17.65), (252.5, 17.65), (254.6, 17.42), (256, 16.26), (257.4, 15.57),
    (258.8, 14.19), (260.2, 14.3), (262.3, 14.65), (264.4, 14.42), (266.5, 15.11), (268.6, 15.69), (270.7, 15.57), (272.8, 14.88), (274.9, 14.99), (277.7, 14.99),
    (280.5, 14.88), (282.6, 13.96), (284.7, 13.38), (287.5, 13.26), (290.3, 13.15), (293.1, 12.92), (295.9, 12.8), (298.7, 12.69), (301.5, 12.46), (304.3, 11.3),
    (307.1, 11.07), (311.3, 10.96), (315.5, 10.84), (319, 10.61), (322.5, 9.92), (326.7, 9.0), (330.9, 8.19), (335.1, 7.61), (339.3, 7.04), (343.5, 6.34),
    (347.7, 6.11), (351.9, 6.0), (355.4, 5.77), (358.9, 5.3),
]
BT_MOD_10MAB = [
    (15.7, 5.65), (16.3, 5.42), (18.4, 4.73), (20.5, 4.04), (22.6, 3.57), (25.3, 3.23), (28.1, 3.0), (30.2, 2.88), (32.3, 2.42), (33.7, 2.19),
    (36.4, 2.19), (39.2, 2.07), (43.4, 2.07), (47.5, 2.19), (51.7, 2.35), (53.7, 2.84), (55.8, 2.65), (58.6, 2.54), (62.7, 2.88), (66.9, 3.11),
    (71.1, 3.34), (75.2, 3.57), (79.4, 3.69), (82.1, 3.92), (84.9, 4.27), (87.7, 4.73), (90.4, 5.42), (92.5, 5.54), (94.6, 5.65), (96.7, 5.77),
    (98.8, 5.88), (101.5, 5.54), (104.3, 5.88), (107.1, 6.11), (109.8, 6.0), (112.6, 5.88), (115.4, 6.0), (118.1, 5.88), (120.9, 6.34), (123.7, 6.34),
    (126.5, 6.23), (128.5, 6.46), (129.9, 7.04), (131.3, 8.19), (133.4, 8.53), (135.5, 8.65), (137.5, 8.53), (138.9, 7.96), (139.9, 7.04), (141, 8.19),
    (143.1, 8.65), (145.8, 9.23), (147.9, 9.57), (150, 9.69), (151, 9.57), (153.1, 10.03), (155.2, 11.42), (157.3, 12.11), (158.7, 11.88), (160.1, 11.65),
    (162.2, 11.42), (164.3, 10.96), (166.4, 10.84), (168.5, 10.73), (170.6, 10.5), (172.7, 9.8), (174.1, 9.57), (176.2, 9.8), (178.3, 10.38), (180.4, 10.61),
    (182.5, 10.73), (184.6, 10.84), (186.7, 11.19), (188.8, 12.8), (189.8, 14.07), (190.9, 12.8), (192.3, 12.11), (193.7, 13.26), (195.1, 12.34), (197.2, 12.11),
    (199.3, 12.34), (200.7, 12.34), (202.1, 12.57), (203.8, 12.8), (205.6, 12.69), (207.7, 12.69), (209.8, 15.11), (211.2, 14.65), (213.3, 13.26), (215.4, 12.57),
    (217.5, 12.11), (219.6, 11.88), (221.7, 11.53), (223.8, 11.65), (225.9, 12.11), (227.3, 14.19), (228.7, 17.42), (230.1, 16.72), (231.5, 15.34), (232.9, 13.49),
    (235, 12.57), (237.1, 13.26), (239.2, 13.03), (241.3, 12.34), (243.4, 12.34), (245.5, 12.69), (246.9, 13.26), (248.6, 17.19), (249.7, 16.03), (251.1, 14.99),
    (253.2, 13.96), (255.3, 13.49), (257.4, 12.8), (258.8, 11.65), (259.5, 10.5), (260.9, 11.42), (263, 11.19), (265.1, 11.19), (267.2, 11.88), (269.3, 12.8),
    (270.7, 13.96), (272.1, 14.76), (273.5, 13.96), (275.6, 13.49), (277.7, 13.61), (279.8, 13.96), (281.2, 14.19), (283.3, 13.49), (285.4, 13.26), (288.2, 12.92),
    (291.7, 12.8), (295.9, 12.57), (298.7, 12.23), (301.5, 11.99), (304.3, 11.19), (308.5, 10.96), (312.7, 10.84), (316.9, 10.73), (321.1, 10.03), (325.3, 9.11),
    (329.5, 8.53), (333.7, 8.19), (337.9, 7.5), (342.1, 6.57), (346.3, 6.34), (350.5, 6.34), (354.7, 6.0), (358.9, 6.0),
]

# ================================================================ (b) salinity
BS_OBS_5M = [
    (130.6, 31.25, 31.67), (132, 31.11, 31.57), (133.4, 30.93, 31.48), (134.8, 30.84, 31.30), (136.1, 30.79, 31.25), (137.5, 30.70, 31.11),
    (138.9, 30.84, 31.44), (140.3, 30.93, 31.48), (141.7, 30.93, 31.39), (143.1, 31.02, 31.39), (144.5, 30.93, 31.39), (145.8, 30.93, 31.39),
    (147.2, 30.84, 31.34), (148.6, 30.75, 31.30), (150.3, 30.84, 31.39), (151.7, 30.84, 31.57), (153.1, 31.21, 31.67), (154.5, 31.25, 31.85),
    (155.9, 31.21, 31.67), (157.3, 31.11, 31.76), (158, 30.66, 31.21), (159.4, 30.56, 30.88), (160.8, 30.52, 30.84), (162.2, 30.56, 30.93),
    (163.6, 30.66, 31.02), (165, 30.66, 31.02), (166.4, 30.75, 31.11), (167.8, 30.84, 31.21), (169.2, 30.93, 31.25), (170.6, 30.93, 31.30),
    (172, 31.02, 31.39), (173.4, 31.21, 31.57), (174.8, 31.30, 31.67), (176.2, 31.39, 31.67), (177.6, 31.39, 31.76), (179, 31.39, 31.71),
    (180.4, 31.39, 31.76), (181.8, 31.39, 31.71), (183.2, 31.44, 31.90), (183.9, 31.50, 32.31), (184.6, 31.30, 31.76), (186, 31.39, 31.76),
    (187.4, 31.48, 31.90), (188.8, 31.57, 32.03), (190.2, 31.48, 31.94), (191.6, 31.39, 31.90), (193, 31.48, 31.94), (194.4, 31.46, 32.03),
    (195.8, 31.53, 32.08), (196.9, 31.60, 32.59), (197.2, 31.48, 32.03), (198.6, 31.39, 31.99), (200, 31.25, 31.76), (201.4, 31.21, 31.71),
    (202.8, 31.11, 31.76), (204.2, 30.38, 31.90), (205.6, 31.02, 32.86), (207, 31.11, 31.94), (208.4, 31.21, 31.94), (209.8, 31.02, 31.57),
    (211.2, 30.98, 31.39), (212.6, 31.02, 31.34), (214, 31.07, 31.44), (215.4, 31.07, 31.48), (216.8, 31.11, 31.48), (218.2, 31.21, 31.57),
    (219.6, 31.21, 31.85), (221, 31.48, 32.49), (222.4, 31.39, 31.90), (223.8, 31.30, 31.80), (225.2, 31.34, 31.76), (226.6, 31.02, 31.48),
    (228, 30.84, 31.25), (229.4, 30.79, 31.11), (230.8, 30.75, 31.02), (232.2, 30.56, 31.21), (233.6, 31.11, 31.57), (235, 31.30, 31.85),
    (236.4, 31.48, 32.03), (237.8, 31.57, 32.13), (239.2, 31.67, 32.08), (240.6, 31.67, 32.22), (241.3, 31.80, 32.82), (242, 31.71, 32.22),
    (243.4, 31.76, 32.13), (244.8, 31.67, 32.91), (246.2, 31.62, 32.22), (247.6, 31.57, 32.68), (249, 31.30, 32.03), (250.4, 31.48, 31.94),
    (251.8, 31.48, 31.90), (253.2, 31.57, 31.94), (254.6, 31.67, 32.03), (256, 31.76, 32.54), (257.4, 31.71, 32.17), (258.8, 31.76, 32.22),
    (260.2, 31.76, 32.22), (261.6, 31.76, 32.17), (263, 31.76, 32.77), (264.4, 31.80, 32.17), (265.8, 31.85, 32.22), (267.2, 31.85, 32.26),
    (268.6, 31.76, 32.22), (270, 31.25, 32.22),
]
BS_OBS_10MAB_A = [
    (0.4, 32.12, 32.22), (1.8, 32.15, 32.25), (3.2, 32.17, 32.27), (4.6, 32.12, 32.22), (6, 32.19, 32.29), (7.3, 32.03, 32.13),
    (8.7, 32.01, 32.11), (10.8, 32.03, 32.13), (12.2, 31.98, 32.08), (13.6, 31.96, 32.06), (15, 32.08, 32.18), (16.3, 32.26, 32.36),
    (17.7, 32.35, 32.45), (19.1, 32.38, 32.48), (20.5, 32.31, 32.41), (22.6, 32.40, 32.50), (24.7, 32.44, 32.54), (26.7, 32.40, 32.50),
    (28.8, 32.42, 32.52), (30.9, 32.51, 32.61), (33, 32.40, 32.50), (35, 32.33, 32.43), (37.1, 32.47, 32.57), (39.2, 32.40, 32.50),
    (41.3, 32.38, 32.48), (43.4, 32.40, 32.50), (45.4, 32.35, 32.45), (47.5, 32.33, 32.43), (49.6, 32.38, 32.48), (51.7, 32.38, 32.48),
    (53.7, 32.40, 32.50), (55.8, 32.38, 32.48), (57.2, 32.31, 32.41), (58.6, 32.05, 32.15), (60, 32.08, 32.18), (61.4, 32.24, 32.34),
    (62.7, 32.21, 32.31), (64.1, 32.47, 32.57), (65.5, 32.61, 32.71), (66.9, 32.49, 32.59), (68.3, 32.40, 32.50), (69.7, 32.54, 32.64),
    (71.1, 32.44, 32.54), (72.4, 32.31, 32.41), (73.8, 32.19, 32.29), (75.2, 32.33, 32.43), (76.6, 32.26, 32.36), (78, 32.28, 32.38),
    (79.4, 32.33, 32.43), (80.7, 32.28, 32.38), (82.1, 32.21, 32.31), (83.5, 32.26, 32.36), (84.9, 32.31, 32.41), (86.3, 32.33, 32.43),
    (87.7, 32.31, 32.41), (89.1, 32.44, 32.54),
]
BS_OBS_10MAB_B = [
    (130.6, 31.79, 31.87), (132, 31.67, 31.75), (133.4, 31.58, 31.66), (134.8, 31.44, 31.52), (136.1, 31.30, 31.38), (137.5, 31.17, 31.25),
    (138.9, 31.44, 31.52), (139.9, 32.02, 32.12), (141, 31.90, 31.98), (142.4, 31.76, 31.84), (144.5, 31.53, 31.61), (145.8, 31.49, 31.57),
    (147.2, 31.40, 31.48), (148.6, 31.35, 31.43), (150.3, 31.35, 31.43), (151.7, 31.44, 31.52), (153.1, 31.49, 31.57), (154.5, 31.44, 31.52),
    (155.9, 31.49, 31.57), (157.3, 31.35, 31.43), (158, 30.98, 31.06), (159.4, 30.80, 30.88), (160.8, 30.66, 30.74), (162.2, 30.80, 30.88),
    (163.6, 30.94, 31.02), (165, 31.03, 31.11), (166.4, 31.12, 31.20), (168.5, 31.17, 31.25), (170.6, 31.21, 31.29), (172.7, 31.44, 31.52),
    (174.1, 31.63, 31.71), (176.2, 31.72, 31.80), (178.3, 31.72, 31.80), (180.4, 31.67, 31.75), (182.5, 31.74, 31.82), (184.6, 31.76, 31.84),
    (186.7, 31.79, 31.87), (188.8, 31.76, 31.84), (190.9, 31.79, 31.87), (193, 31.74, 31.82), (195.1, 31.79, 31.87), (197.2, 31.83, 31.91),
    (199.3, 31.74, 31.82), (202.1, 31.70, 31.78), (204.2, 31.72, 31.80), (206.3, 31.70, 31.78), (207.7, 31.63, 31.71), (209.1, 31.49, 31.57),
    (210.5, 31.40, 31.48), (212.6, 31.42, 31.50), (214.7, 31.42, 31.50), (216.8, 31.49, 31.57), (218.9, 31.63, 31.71), (221, 31.72, 31.80),
    (223.1, 31.76, 31.84), (225.2, 31.74, 31.82), (227.3, 31.63, 31.71), (228.7, 31.44, 31.52), (229.8, 31.35, 31.43), (231.5, 31.53, 31.61),
    (233.6, 31.63, 31.71), (235.7, 31.81, 31.89), (237.8, 31.90, 31.98), (239.9, 31.95, 32.03), (242, 31.97, 32.05), (244.1, 32.04, 32.12),
    (246.2, 32.04, 32.12), (247.6, 32.09, 32.17), (249, 31.95, 32.03), (250.4, 31.83, 31.91), (251.8, 31.79, 31.87), (253.9, 31.90, 31.98),
    (256, 31.99, 32.07), (258.1, 32.04, 32.12), (260.2, 32.11, 32.19), (262.3, 32.11, 32.19), (264.4, 32.11, 32.19), (266.5, 32.13, 32.21),
    (268.6, 32.09, 32.17), (270.7, 32.09, 32.17), (272.8, 32.06, 32.14), (274.9, 32.09, 32.17), (277, 32.04, 32.12), (279.1, 32.06, 32.14),
    (281.2, 32.09, 32.17), (283.3, 31.99, 32.07), (284.7, 31.86, 31.94), (286.8, 31.88, 31.96), (288.9, 31.90, 31.98), (291, 31.88, 31.96),
    (293.1, 31.81, 31.89), (295.2, 31.86, 31.94), (297.3, 31.90, 31.98), (299.4, 31.99, 32.07), (301.5, 31.95, 32.03), (303.6, 31.90, 31.98),
    (305.7, 31.86, 31.94), (307.8, 31.86, 31.94), (309.9, 31.95, 32.03), (312, 31.90, 31.98), (314.1, 31.93, 32.01), (316.2, 31.90, 31.98),
    (318.3, 31.86, 31.94), (320.4, 31.81, 31.89), (322.5, 31.81, 31.89), (325.3, 31.76, 31.84), (327.4, 31.70, 31.78), (328.8, 31.63, 31.71),
    (330.2, 31.99, 32.07), (331.6, 31.81, 31.89), (333.7, 31.81, 31.89), (335.8, 31.90, 31.98), (337.9, 32.04, 32.12), (340, 31.99, 32.07),
    (342.1, 31.90, 31.98), (344.2, 31.88, 31.96), (346.3, 31.81, 31.89), (348.4, 31.86, 31.94), (350.5, 31.79, 31.87), (352.6, 31.74, 31.82),
    (354.7, 31.81, 31.89), (356.8, 31.86, 31.94), (358.2, 32.16, 32.24), (358.9, 31.81, 31.89), (360, 31.90, 31.98),
]
BS_MOD_5M = [
    (0.4, 32.1), (1.8, 32.08), (4.6, 32.08), (7.3, 32.07), (10.1, 32.07), (12.2, 32.03), (12.9, 31.92), (14.3, 31.99), (16.3, 32.08), (18.4, 32.06),
    (20.5, 32.22), (22.6, 32.26), (24.7, 32.36), (26.7, 32.38), (28.8, 32.43), (30.9, 32.45), (33, 32.38), (35, 32.36), (37.8, 32.4), (40.6, 32.43),
    (43.4, 32.4), (46.1, 32.43), (48.9, 32.43), (50.9, 32.26), (53, 32.24), (55.1, 32.31), (56.5, 32.43), (57.9, 32.36), (59.3, 32.08), (60.2, 32.03),
    (61.4, 31.83), (62.7, 31.99), (64.1, 31.94), (65.5, 32.13), (66.9, 32.03), (68.3, 32.22), (69.7, 32.13), (71.7, 32.22), (73.1, 32.13), (74.5, 32.31),
    (75.9, 32.36), (77.3, 32.29), (78.7, 32.26), (80.1, 32.56), (81, 32.77), (82.8, 32.54), (84.2, 32.45), (85.6, 31.92), (87, 32.03), (89.1, 32.17),
    (90.4, 32.08), (91.8, 31.85), (93.2, 31.9), (94.6, 31.99), (95.7, 32.08), (96.7, 31.76), (98.1, 31.78), (99.4, 32.54), (100.8, 32.45), (102.2, 32.38),
    (103.6, 32.22), (105, 32.01), (106.4, 32.13), (108.4, 32.1), (109.8, 31.92), (111.9, 31.8), (113.3, 31.78), (114.7, 31.53), (116.1, 31.57), (117.4, 31.48),
    (118.8, 31.07), (120.2, 30.63), (121.6, 30.75), (123, 30.84), (124.4, 31.21), (125.8, 31.48), (127.1, 31.6), (128.5, 31.67), (129.9, 31.48), (131.3, 31.25),
    (132.7, 30.84), (134.8, 31.07), (136.1, 31.02), (137.5, 30.93), (138.9, 31.3), (140.3, 31.53), (141.7, 31.34), (143.1, 31.3), (144.5, 31.34), (145.8, 31.21),
    (147.2, 31.02), (148.6, 30.88), (150.3, 30.75), (151.7, 30.84), (153.8, 30.82), (155.9, 30.84), (157.3, 30.7), (158.7, 30.91), (160.1, 30.59), (162.2, 30.52),
    (163.6, 30.43), (164.6, 30.33), (165.7, 30.47), (167.1, 30.56), (169.2, 30.68), (170.6, 30.52), (171.7, 30.22), (172.7, 30.43), (174.1, 30.91), (176.2, 30.93),
    (178.3, 31.02), (179.7, 30.88), (181.1, 30.86), (183.2, 30.84), (185.3, 30.91), (186.7, 30.88), (188.8, 30.84), (190.2, 30.61), (191.6, 30.54), (193.7, 30.59),
    (195.8, 30.54), (197.2, 30.84), (198.6, 30.91), (200.7, 30.77), (203.5, 30.75), (205.6, 30.75), (207.7, 30.75), (209.8, 30.72), (211.9, 30.68), (214.7, 30.7),
    (217.5, 30.75), (220.3, 30.79), (222.4, 30.86), (224.5, 30.91), (226.6, 30.84), (228.7, 30.77), (230.1, 30.7), (231.5, 30.72), (232.9, 30.79), (234.3, 30.84),
    (236.4, 30.82), (238.5, 31.0), (241.3, 31.02), (244.1, 31.05), (246.9, 31.02), (249.7, 30.98), (252.5, 31.02), (255.3, 31.09), (258.1, 31.23), (260.9, 31.3),
    (263.7, 31.32), (266.5, 31.32), (269.3, 31.28), (271.4, 31.25), (273.5, 31.32), (276.3, 31.32), (279.1, 31.34), (281.9, 31.37), (284, 31.28), (285.4, 31.25),
    (287.5, 31.34), (290.3, 31.44), (293.1, 31.44), (295.9, 31.46), (298.7, 31.44), (301.5, 31.44), (303.6, 31.37), (305.7, 31.46), (308.5, 31.53), (311.3, 31.53),
    (314.1, 31.55), (316.9, 31.53), (319.7, 31.48), (322.5, 31.37), (325.3, 31.37), (328.1, 31.39), (330.9, 31.44), (333.7, 31.48), (336.5, 31.57), (339.3, 31.6),
    (342.1, 31.62), (344.9, 31.6), (347.7, 31.69), (350.5, 31.6), (353.3, 31.64), (355.4, 31.6), (356.1, 31.44), (357.5, 31.39), (358.2, 31.28), (359.6, 31.39),
]
BS_MOD_10MAB = [
    (15.7, 32.17), (18.4, 32.26), (21.2, 32.31), (24, 32.4), (26.7, 32.45), (29.5, 32.49), (32.3, 32.38), (35, 32.36), (37.8, 32.38), (40.6, 32.4),
    (43.4, 32.38), (46.1, 32.4), (48.9, 32.4), (51.7, 32.43), (53, 32.63), (54.4, 32.7), (55.8, 32.52), (57.2, 32.63), (58.6, 32.66), (60, 32.26),
    (61.4, 32.2), (62.7, 32.24), (64.1, 32.38), (65.5, 32.52), (66.9, 32.61), (68.3, 32.52), (69.7, 32.49), (71.1, 32.4), (72.4, 32.45), (73.8, 32.63),
    (75.2, 32.75), (76.6, 32.49), (78, 32.33), (79.4, 32.45), (80.7, 32.36), (82.1, 32.61), (83.5, 32.59), (84.9, 32.63), (86.3, 32.68), (87.7, 32.56),
    (89.1, 32.66), (90.4, 32.49), (91.8, 32.31), (93.2, 32.36), (94.6, 32.45), (96, 32.08), (97.4, 32.08), (98.8, 32.49), (100.1, 32.52), (101.5, 32.45),
    (102.9, 32.36), (104.3, 32.31), (105.7, 32.33), (107.1, 32.26), (108.4, 32.17), (109.8, 31.9), (111.9, 31.8), (113.3, 31.78), (114.7, 31.53), (116.1, 31.57),
    (117.4, 31.39), (118.8, 31.25), (120.2, 31.21), (121.6, 31.39), (123, 31.69), (124.4, 31.9), (126.5, 31.92), (128.5, 31.9), (129.9, 31.71), (131.3, 31.39),
    (132.7, 31.34), (134.1, 31.21), (135.5, 31.25), (136.8, 31.44), (138.2, 31.62), (139.6, 31.85), (141, 31.67), (142.4, 31.48), (143.8, 31.53), (145.1, 31.48),
    (146.5, 31.39), (147.9, 31.3), (149.3, 31.39), (150.3, 31.39), (151.7, 31.34), (153.8, 31.39), (155.9, 31.34), (157.3, 31.25), (158.7, 30.98), (160.1, 30.66),
    (161.5, 30.7), (163.6, 30.79), (165.7, 30.93), (167.8, 31.07), (169.9, 31.02), (172, 31.07), (174.1, 31.25), (176.2, 31.28), (178.3, 31.25), (180.4, 31.21),
    (182.5, 31.21), (184.6, 31.23), (186.7, 31.16), (188.8, 31.07), (190.2, 30.93), (191.6, 31.09), (193.7, 31.0), (195.8, 31.02), (197.9, 31.09), (200, 31.0),
    (202.1, 30.93), (204.2, 30.98), (206.3, 30.93), (208.4, 30.91), (209.8, 30.79), (211.9, 30.86), (214, 30.91), (216.1, 30.95), (218.9, 31.02), (221, 31.09),
    (223.1, 31.11), (225.2, 31.05), (227.3, 30.93), (229.4, 30.84), (231.5, 30.91), (233.6, 31.0), (235.7, 31.07), (237.8, 31.25), (239.9, 31.28), (242, 31.3),
    (244.1, 31.3), (246.9, 31.32), (249, 31.05), (251.1, 31.16), (253.2, 31.21), (255.3, 31.34), (257.4, 31.48), (259.5, 31.51), (261.6, 31.53), (263.7, 31.6),
    (265.8, 31.62), (267.9, 31.69), (269.3, 31.53), (270.7, 31.34), (272.1, 31.44), (274.2, 31.48), (276.3, 31.57), (278.4, 31.6), (280.5, 31.55), (282.6, 31.41),
    (284.7, 31.34), (286.8, 31.48), (288.9, 31.62), (291, 31.64), (292.4, 31.55), (294.5, 31.46), (296.6, 31.53), (298.7, 31.6), (300.8, 31.64), (302.2, 31.55),
    (304.3, 31.44), (306.4, 31.46), (308.5, 31.51), (311.3, 31.53), (314.1, 31.53), (316.9, 31.51), (319.7, 31.48), (322.5, 31.39), (325.3, 31.39), (328.1, 31.41),
    (329.5, 31.57), (330.9, 31.62), (333, 31.57), (335.1, 31.6), (337.2, 31.64), (338.6, 31.69), (340.7, 31.62), (343.5, 31.64), (346.3, 31.62), (349.1, 31.64),
    (351.9, 31.6), (354.7, 31.57), (356.1, 31.48), (357.5, 31.53), (358.9, 31.69), (359.6, 31.67),
]


# ---------------------------------------------------------------- helpers
def line_xy(*segments):
    """(day, value) segments joined with gaps."""
    xs, ys = [], []
    for i, seg in enumerate(segments):
        if i:
            xs.append(None)
            ys.append(None)
        for d, v in seg:
            xs.append(d)
            ys.append(v)
    return xs, ys


def band_outline(*segments):
    """(day, low, high) segments as closed envelopes (upper edge out, lower edge back)."""
    xs, ys = [], []
    for i, seg in enumerate(segments):
        if i:
            xs.append(None)
            ys.append(None)
        xs += [d for d, lo, hi in seg] + [d for d, lo, hi in reversed(seg)]
        ys += [hi for d, lo, hi in seg] + [lo for d, lo, hi in reversed(seg)]
    return xs, ys


def px(x):
    return x / W


def py(y):
    return 1 - y / H


fig = go.Figure()


def add(xy, color, ax, width=1.7):
    xs, ys = xy
    fig.add_trace(go.Scatter(
        x=xs, y=ys, mode="lines", line=dict(color=color, width=width),
        xaxis="x" + ax, yaxis="y" + ax, showlegend=False, hoverinfo="skip",
    ))


def add_band(xy, color, ax, width=1.0):
    xs, ys = xy
    fig.add_trace(go.Scatter(
        x=xs, y=ys, mode="lines", fill="toself", fillcolor=color,
        line=dict(color=color, width=width),
        xaxis="x" + ax, yaxis="y" + ax, showlegend=False, hoverinfo="skip",
    ))


# (a) T
add(line_xy(AT_OBS_5M), COLORS[0], "", 1.6)
add(line_xy(AT_OBS_1MAB_A, AT_OBS_1MAB_B), COLORS[1], "")
add(line_xy(AT_MOD_5M), COLORS[2], "")
add(line_xy(AT_MOD_1MAB), COLORS[3], "")
# (a) S
add_band(band_outline(AS_OBS_5M), COLORS[0], "2")
add_band(band_outline(AS_OBS_1MAB_A, AS_OBS_1MAB_B, AS_OBS_1MAB_C), COLORS[1], "2")
add(line_xy(AS_MOD_5M), COLORS[2], "2", 1.5)
add(line_xy(AS_MOD_1MAB), COLORS[3], "2", 1.5)
# (b) T
add_band(band_outline(BT_OBS_5M), COLORS[0], "3")
add(line_xy(BT_OBS_10MAB_A, BT_OBS_10MAB_B), COLORS[1], "3", 1.8)
add(line_xy(BT_MOD_5M), COLORS[2], "3")
add(line_xy(BT_MOD_10MAB), COLORS[3], "3")
# (b) S
add_band(band_outline(BS_OBS_5M), COLORS[0], "4")
add_band(band_outline(BS_OBS_10MAB_A, BS_OBS_10MAB_B), COLORS[1], "4")
add(line_xy(BS_MOD_5M), COLORS[2], "4", 1.6)
add(line_xy(BS_MOD_10MAB), COLORS[3], "4", 1.6)

# ---------------------------------------------------------------- layout
AXC = "#8c8c8c"
SANS = "Open Sans, Noto Sans, sans-serif"
TICK_FONT = dict(family=SANS, size=18, color="#1e1e1e")
XDOM = [px(142.3), px(1002.7)]

PANELS = [  # (suffix, top px, bottom px, kind, x labels, x minor ticks)
    ("", 28.3, 317.7, "T", False, False),
    ("2", 366.0, 655.0, "S", True, False),
    ("3", 792.7, 1081.7, "T", False, True),
    ("4", 1130.0, 1420.0, "S", True, True),
]

common = dict(showline=True, linecolor=AXC, linewidth=1.5, mirror="ticks",
              ticks="outside", tickcolor=AXC, tickwidth=1.5, ticklen=10,
              showgrid=False, zeroline=False, tickfont=TICK_FONT, automargin=False)

layout_axes = {}
for suf, top, bot, kind, xlab, xminor in PANELS:
    xa = dict(common, domain=XDOM, anchor="y" + suf, range=[0, 360],
              tickmode="array", tickvals=DAY_TICKS, showticklabels=xlab,
              ticklabelstandoff=1)
    if xminor:
        xa["minor"] = dict(tickmode="array", tickvals=DAY_MINOR, ticks="outside",
                           ticklen=5, tickcolor=AXC, tickwidth=1.5, showgrid=False)
    if kind == "T":
        ya = dict(common, domain=[py(bot), py(top)], anchor="x" + suf, range=[0, 20],
                  tickmode="array", tickvals=T_TICKS, ticklabelstandoff=7,
                  minor=dict(tickmode="array", tickvals=[2, 6, 10, 14, 18], ticks="outside",
                             ticklen=5, tickcolor=AXC, tickwidth=1.5, showgrid=False))
    else:
        ya = dict(common, domain=[py(bot), py(top)], anchor="x" + suf, range=[29, 33],
                  tickmode="array", tickvals=S_TICKS, ticklabelstandoff=7,
                  minor=dict(tickmode="array", tickvals=[29.5, 30.5, 31.5, 32.5], ticks="outside",
                             ticklen=5, tickcolor=AXC, tickwidth=1.5, showgrid=False))
    layout_axes["xaxis" + suf] = xa
    layout_axes["yaxis" + suf] = ya

annotations = []
shapes = []


def note(text, x, y, size, color="#1e1e1e", family=SANS, xanchor="center", angle=0):
    annotations.append(dict(text=text, x=px(x), y=py(y), xref="paper", yref="paper",
                            xanchor=xanchor, yanchor="middle", textangle=angle,
                            showarrow=False, font=dict(family=family, size=size, color=color)))


SERIF = "Liberation Serif, Times New Roman, serif"
note("(a)", 26, 24, 28, "#111", SERIF)
note("(b)", 30, 766, 28, "#111", SERIF)

# axis titles
for suf, top, bot, kind, xlab, xminor in PANELS:
    title = "T(<sup><i>o</i></sup>C)" if kind == "T" else "S(psu)"
    note(title, 88, (top + bot) / 2 + 3, 17, angle=-90)
    if xlab:
        note("Julian Day", 572.5, min(bot + 52, 1468), 17)

# legends
for names, rows in ((LEGEND_A, [59, 88, 117, 146]), (LEGEND_B, [822.7, 851, 880, 909.3])):
    for name, row, col in zip(names, rows, COLORS):
        shapes.append(dict(type="line", xref="paper", yref="paper", x0=px(178), x1=px(226),
                           y0=py(row), y1=py(row), line=dict(color=col, width=1.6)))
        note(name, 238, row, 18, col, xanchor="left")

# boxed panel tags with drop shadow
for label, top in (("T", 276.0), ("S", 614.0), ("T", 1040.7), ("S", 1378.3)):
    left, wdt, hgt = 165.7, 48.0, 27.0
    shapes.append(dict(type="rect", xref="paper", yref="paper", layer="above",
                       x0=px(left + 5), x1=px(left + 5 + wdt), y0=py(top + 4.5 + hgt), y1=py(top + 4.5),
                       fillcolor="#000", line=dict(width=0)))
    shapes.append(dict(type="rect", xref="paper", yref="paper", layer="above",
                       x0=px(left), x1=px(left + wdt), y0=py(top + hgt), y1=py(top),
                       fillcolor="#fff", line=dict(color="#000", width=1.5)))
    note(label, left + wdt / 2, top + hgt / 2, 17, "#111")

fig.update_layout(
    width=W, height=H, autosize=False,
    margin=dict(l=0, r=0, t=0, b=0, pad=0, autoexpand=False),
    paper_bgcolor="white", plot_bgcolor="white",
    showlegend=False,
    annotations=annotations, shapes=shapes,
    **layout_axes,
)

fig.write_html("out.html", config={"displayModeBar": False})
